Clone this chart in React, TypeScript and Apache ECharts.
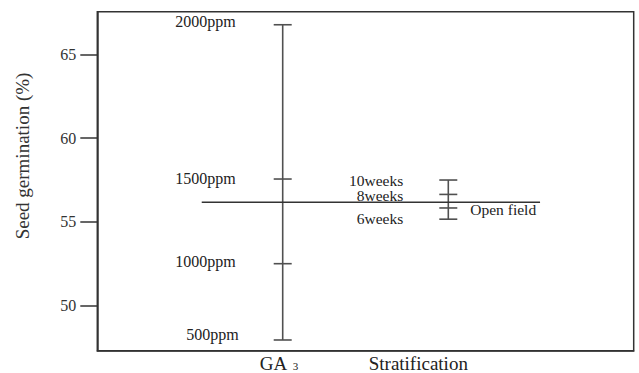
import React, { useEffect, useRef } from "react";
import * as echarts from "echarts";

// ---- data ----
const categories = ["GA", "Stratification"];
const categorySub = ["3", ""];
const categoryX = [1, 2];
const ga3Labels = ["500ppm", "1000ppm", "1500ppm", "2000ppm"];
const ga3Values = [47.93, 52.49, 57.55, 66.77];
const stratLabels = ["6weeks", "Open field", "8weeks", "10weeks"];
const stratValues = [55.15, 55.82, 56.63, 57.49];
const grandMean = 56.16;
const meanLineX = [0.511, 2.554];
const yTicks = [50, 55, 60, 65];
const yRange = [47.29, 67.55];
const xRange = [-0.1196, 3.1196];

// ---- label placement (pixels, relative to the cap) ----
const labelOffsets: Record<string, { dx: number; dy: number; side: "left" | "right" }> = {
  "500ppm": { dx: -44, dy: -5, side: "left" },
  "1000ppm": { dx: -47, dy: -2, side: "left" },
  "1500ppm": { dx: -47, dy: -1, side: "left" },
  "2000ppm": { dx: -47, dy: -3, side: "left" },
  "6weeks": { dx: -45, dy: -1, side: "left" },
  "Open field": { dx: 22, dy: 2, side: "right" },
  "8weeks": { dx: -45, dy: 1, side: "left" },
  "10weeks": { dx: -45, dy: 0, side: "left" },
};

const groups = [
  { labels: ga3Labels, values: ga3Values },
  { labels: stratLabels, values: stratValues },
];

const FONT = "'Liberation Serif', 'DejaVu Serif', serif";
const INK = "#222";
const BAR = "#505050";

export default function App() {
  const ref = useRef<HTMLDivElement>(null);
  useEffect(() => {
    if (!ref.current) return;
    const chart = echarts.init(ref.current, null, { renderer: "svg" });
    const option: any = {
      animation: false,
      backgroundColor: "#fff",
      grid: {
        left: 97.3,
        top: 11.7,
        right: 5.3,
        bottom: 22.3,
        show: true,
        borderColor: "#333",
        borderWidth: 1.5,
        backgroundColor: "transparent",
      },
      xAxis: {
        type: "value",
        min: xRange[0],
        max: xRange[1],
        axisLine: { show: true, onZero: false, lineStyle: { color: "#333", width: 1.5 } },
        axisTick: { show: false },
        axisLabel: { show: false },
        splitLine: { show: false },
      },
      yAxis: {
        type: "value",
        min: yRange[0],
        max: yRange[1],
        axisLine: { show: true, onZero: false, lineStyle: { color: "#333", width: 1.5 } },
        axisTick: {
          show: true,
          inside: false,
          length: 17,
          customValues: yTicks,
          lineStyle: { color: "#333", width: 1.5 },
        },
        axisLabel: {
          customValues: yTicks,
          margin: 21,
          fontFamily: FONT,
          fontSize: 16,
          color: "#333",
        },
        splitLine: { show: false },
      },
      graphic: [
        {
          type: "text",
          x: 22,
          y: 156,
          rotation: Math.PI / 2,
          style: {
            text: "Seed germination (%)",
            font: `19px ${FONT}`,
            fill: "#333",
            align: "center",
            verticalAlign: "middle",
          },
        },
      ],
      series: [
        {
          type: "line",
          data: meanLineX.map((x) => [x, grandMean]),
          symbol: "none",
          lineStyle: { color: "#333", width: 1.5 },
          silent: true,
        },
        {
          type: "custom",
          data: categoryX.map((x, i) => [x, Math.min(...groups[i].values), Math.max(...groups[i].values)]),
          encode: { x: 0, y: [1, 2] },
          renderItem: (params: any, api: any) => {
            const i = params.dataIndex;
            const g = groups[i];
            const cx = api.value(0);
            const lo = api.coord([cx, api.value(1)]);
            const hi = api.coord([cx, api.value(2)]);
            const px = lo[0];
            const children: any[] = [
              {
                type: "line",
                shape: { x1: px, y1: hi[1], x2: px, y2: lo[1] },
                style: { stroke: BAR, lineWidth: 1.6 },
              },
            ];
            g.values.forEach((v, k) => {
              const py = api.coord([cx, v])[1];
              children.push({
                type: "line",
                shape: { x1: px - 9, y1: py, x2: px + 9, y2: py },
                style: { stroke: BAR, lineWidth: 1.6 },
              });
              const lab = g.labels[k];
              const off = labelOffsets[lab];
              children.push({
                type: "text",
                x: px + off.dx,
                y: py + off.dy,
                style: {
                  text: lab,
                  font: `${i === 0 ? 16 : 15.5}px ${FONT}`,
                  fill: INK,
                  align: off.side === "left" ? "right" : "left",
                  verticalAlign: "middle",
                },
              });
            });
            // category label under the axis
            const bottomY = api.coord([cx, yRange[0]])[1];
            if (i === 0) {
              children.push({
                type: "text",
                x: px - 23,
                y: bottomY + 13,
                style: { text: categories[i], font: `19px ${FONT}`, fill: INK, align: "left", verticalAlign: "middle" },
              });
              children.push({
                type: "text",
                x: px + 10,
                y: bottomY + 15,
                style: { text: categorySub[i], font: `11px ${FONT}`, fill: INK, align: "left", verticalAlign: "middle" },
              });
            } else {
              children.push({
                type: "text",
                x: px - 30,
                y: bottomY + 13,
                style: { text: categories[i], font: `19px ${FONT}`, fill: INK, align: "center", verticalAlign: "middle" },
              });
            }
            return { type: "group", children };
          },
          silent: true,
          clip: false,
        },
      ],
    };
    chart.setOption(option);
    return () => chart.dispose();
  }, []);
  return (
    <div
      ref={ref}
      style={{ position: "fixed", left: 0, top: 0, width: 639, height: 373, background: "#fff" }}
    />
  );
}
